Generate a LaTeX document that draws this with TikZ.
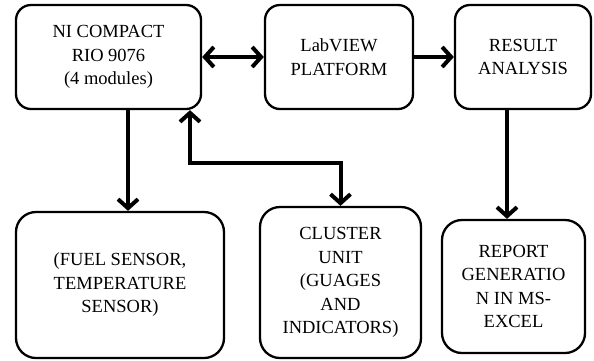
\documentclass[tikz,border=0pt]{standalone}
\usepackage{fontspec}
\newfontfamily\tnr{Liberation Serif}
\usetikzlibrary{arrows.meta}
\begin{document}
\begin{tikzpicture}[x=1pt,y=-1pt,
  blk/.style={draw=black,line width=2.3pt,rounded corners=15pt,align=center,
    inner sep=0pt,font=\tnr\fontsize{18.5}{23.5}\selectfont},
  conn/.style={line width=4pt,-{Straight Barb[length=9pt,width=20pt]}},
  bconn/.style={line width=4pt,{Straight Barb[length=9pt,width=20pt]}-{Straight Barb[length=9pt,width=20pt]}}]
\useasboundingbox (0,0) rectangle (594,360);
\node[blk,minimum width=185pt,minimum height=104pt] (b1) at (108.5,57) {NI COMPACT\\RIO 9076\\(4 modules)};
\node[blk,minimum width=148pt,minimum height=104pt] (b2) at (339,57) {LabVIEW\\PLATFORM};
\node[blk,minimum width=136pt,minimum height=104pt] (b3) at (523,57) {RESULT\\ANALYSIS};
\node[blk,minimum width=208pt,minimum height=146pt,rounded corners=20pt] (b4) at (120,285) {(FUEL SENSOR,\\TEMPERATURE\\SENSOR)};
\node[blk,minimum width=161pt,minimum height=151pt,rounded corners=20pt] (b5) at (340.5,282.5) {CLUSTER\\UNIT\\(GUAGES\\AND\\INDICATORS)};
\node[blk,minimum width=143pt,minimum height=133pt,rounded corners=20pt] (b6) at (513.5,286.5) {REPORT\\GENERATIO\\N IN MS-\\EXCEL};
\coordinate (c0) at (128,163);
\coordinate (c1) at (190,163);
\coordinate (c2) at (507,163);
\draw[bconn] (b1.east) -- (b2.west);
\draw[conn] (b2.east) -- (b3.west);
\draw[conn] (b1.south -| c0) -- (c0 |- b4.north);
\draw[bconn] (b1.south -| c1) -- (c1) -| (b5.north);
\draw[conn] (b3.south -| c2) -- (c2 |- b6.north);
\end{tikzpicture}
\end{document}
